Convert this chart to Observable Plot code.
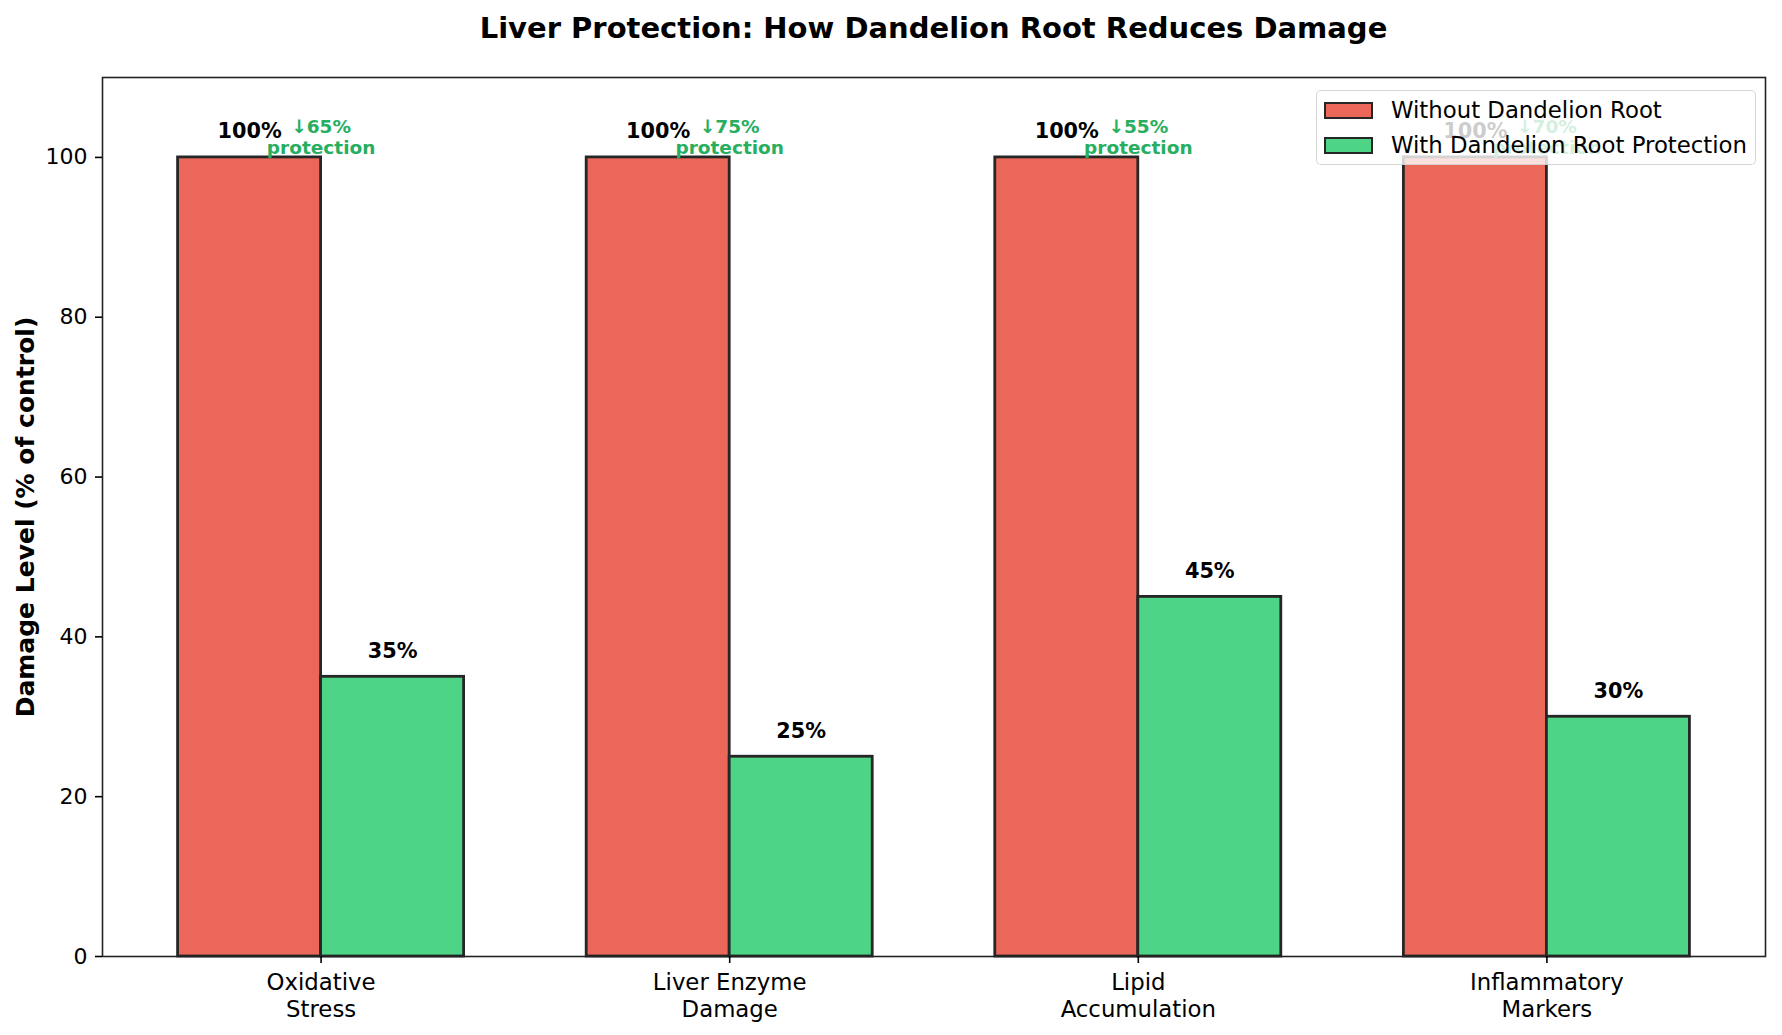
<!DOCTYPE html>
<html>
<head>
<meta charset="utf-8">
<script src="https://cdn.jsdelivr.net/npm/d3@7"></script>
<script src="https://cdn.jsdelivr.net/npm/@observablehq/plot@0.6"></script>
<style>
  body { margin: 0; background: #fff; font-family: "DejaVu Sans", sans-serif; }
  #wrap { position: relative; width: 1782px; height: 1035px; }
  #title {
    height: 54px; line-height: 56px; box-sizing: border-box;
    padding-left: 102px; padding-right: 17px; text-align: center;
    font-size: 29px; font-weight: bold; color: #000;
  }
  #legend {
    position: absolute; left: 1316px; top: 90px; width: 440px; height: 75px;
    box-sizing: border-box; background: rgba(255,255,255,0.8);
    border: 1.5px solid rgba(204,204,204,0.8); border-radius: 5px;
  }
  .row { position: absolute; left: 7px; display: flex; align-items: center; font-size: 22.8px; color: #000; white-space: nowrap; }
  .swatch { width: 49px; height: 17px; box-sizing: border-box; border: 2.8px solid #262626; margin-right: 18px; }
  svg { display: block; }
</style>
</head>
<body>
<div id="wrap">
  <div id="title">Liver Protection: How Dandelion Root Reduces Damage</div>
  <div id="chart"></div>
  <div id="legend"></div>
</div>
<script>
// Damage measures, as a percentage of the untreated control
const categories = ["Oxidative\nStress", "Liver Enzyme\nDamage", "Lipid\nAccumulation", "Inflammatory\nMarkers"];
const withoutRoot = [100, 100, 100, 100];
const withRoot = [35, 25, 45, 30];
const seriesNames = ["Without Dandelion Root", "With Dandelion Root Protection"];
const seriesColors = ["#eb6759", "#4dd486"];   // red / green at 85% opacity over white
const yTicks = [0, 20, 40, 60, 80, 100];

const barWidth = 0.35;
const rows = categories.map((c, i) => ({
  i, category: c,
  without: withoutRoot[i],
  with: withRoot[i],
  reduction: withoutRoot[i] - withRoot[i]
}));

const edge = "#262626";
const plot = Plot.plot({
  width: 1782,
  height: 981,
  marginTop: 23,
  marginLeft: 102,
  marginRight: 17,
  marginBottom: 79,
  style: { fontFamily: "DejaVu Sans, sans-serif", color: "#000", background: "#fff" },
  x: { type: "linear", domain: [-0.535, 3.535] },
  y: { domain: [0, 110] },
  marks: [
    // grouped bars: untreated to the left of each category, treated to the right
    Plot.rect(rows, { x1: d => d.i - barWidth, x2: d => d.i, y1: 0, y2: "without",
      fill: seriesColors[0], stroke: edge, strokeWidth: 2.8 }),
    Plot.rect(rows, { x1: d => d.i, x2: d => d.i + barWidth, y1: 0, y2: "with",
      fill: seriesColors[1], stroke: edge, strokeWidth: 2.8 }),
    Plot.frame({ stroke: "#222", strokeWidth: 1.6 }),
    // value labels
    Plot.text(rows, { x: d => d.i - barWidth / 2, y: "without", text: d => `${d.without}%`,
      lineAnchor: "bottom", dy: -19, fontSize: 20.8, fontWeight: "bold", fill: "#000" }),
    Plot.text(rows, { x: d => d.i + barWidth / 2, y: "with", text: d => `${d.with}%`,
      lineAnchor: "bottom", dy: -19, fontSize: 20.8, fontWeight: "bold", fill: "#000" }),
    // protection annotation at each category centre
    Plot.text(rows, { x: "i", y: "without", text: d => `↓${d.reduction}%\nprotection`,
      lineAnchor: "bottom", lineHeight: 1.17, dy: -3, fontSize: 18.5, fontWeight: "bold", fill: "#27ae60" }),
    Plot.axisY({ ticks: yTicks, tickSize: 7, tickPadding: 8, fontSize: 22, strokeWidth: 1.6, label: null }),
    Plot.axisX({ ticks: [0, 1, 2, 3], tickFormat: i => categories[i], tickSize: 7, tickPadding: 7,
      fontSize: 22.8, lineHeight: 1.18, strokeWidth: 1.6, label: null }),
    Plot.text(["Damage Level (% of control)"], { frameAnchor: "left", text: d => d, rotate: -90,
      textAnchor: "middle", lineAnchor: "middle", dx: -77, fontSize: 25, fontWeight: "bold", fill: "#000" })
  ]
});
document.getElementById("chart").appendChild(plot);

// legend box drawn over the plot area, semi-transparent like the frame beneath
const legend = document.getElementById("legend");
seriesNames.forEach((name, k) => {
  const row = document.createElement("div");
  row.className = "row";
  row.style.top = (k === 0 ? 3 : 38) + "px";
  row.style.height = "32px";
  const sw = document.createElement("div");
  sw.className = "swatch";
  sw.style.background = seriesColors[k];
  const label = document.createElement("span");
  label.textContent = name;
  row.appendChild(sw);
  row.appendChild(label);
  legend.appendChild(row);
});
</script>
</body>
</html>
